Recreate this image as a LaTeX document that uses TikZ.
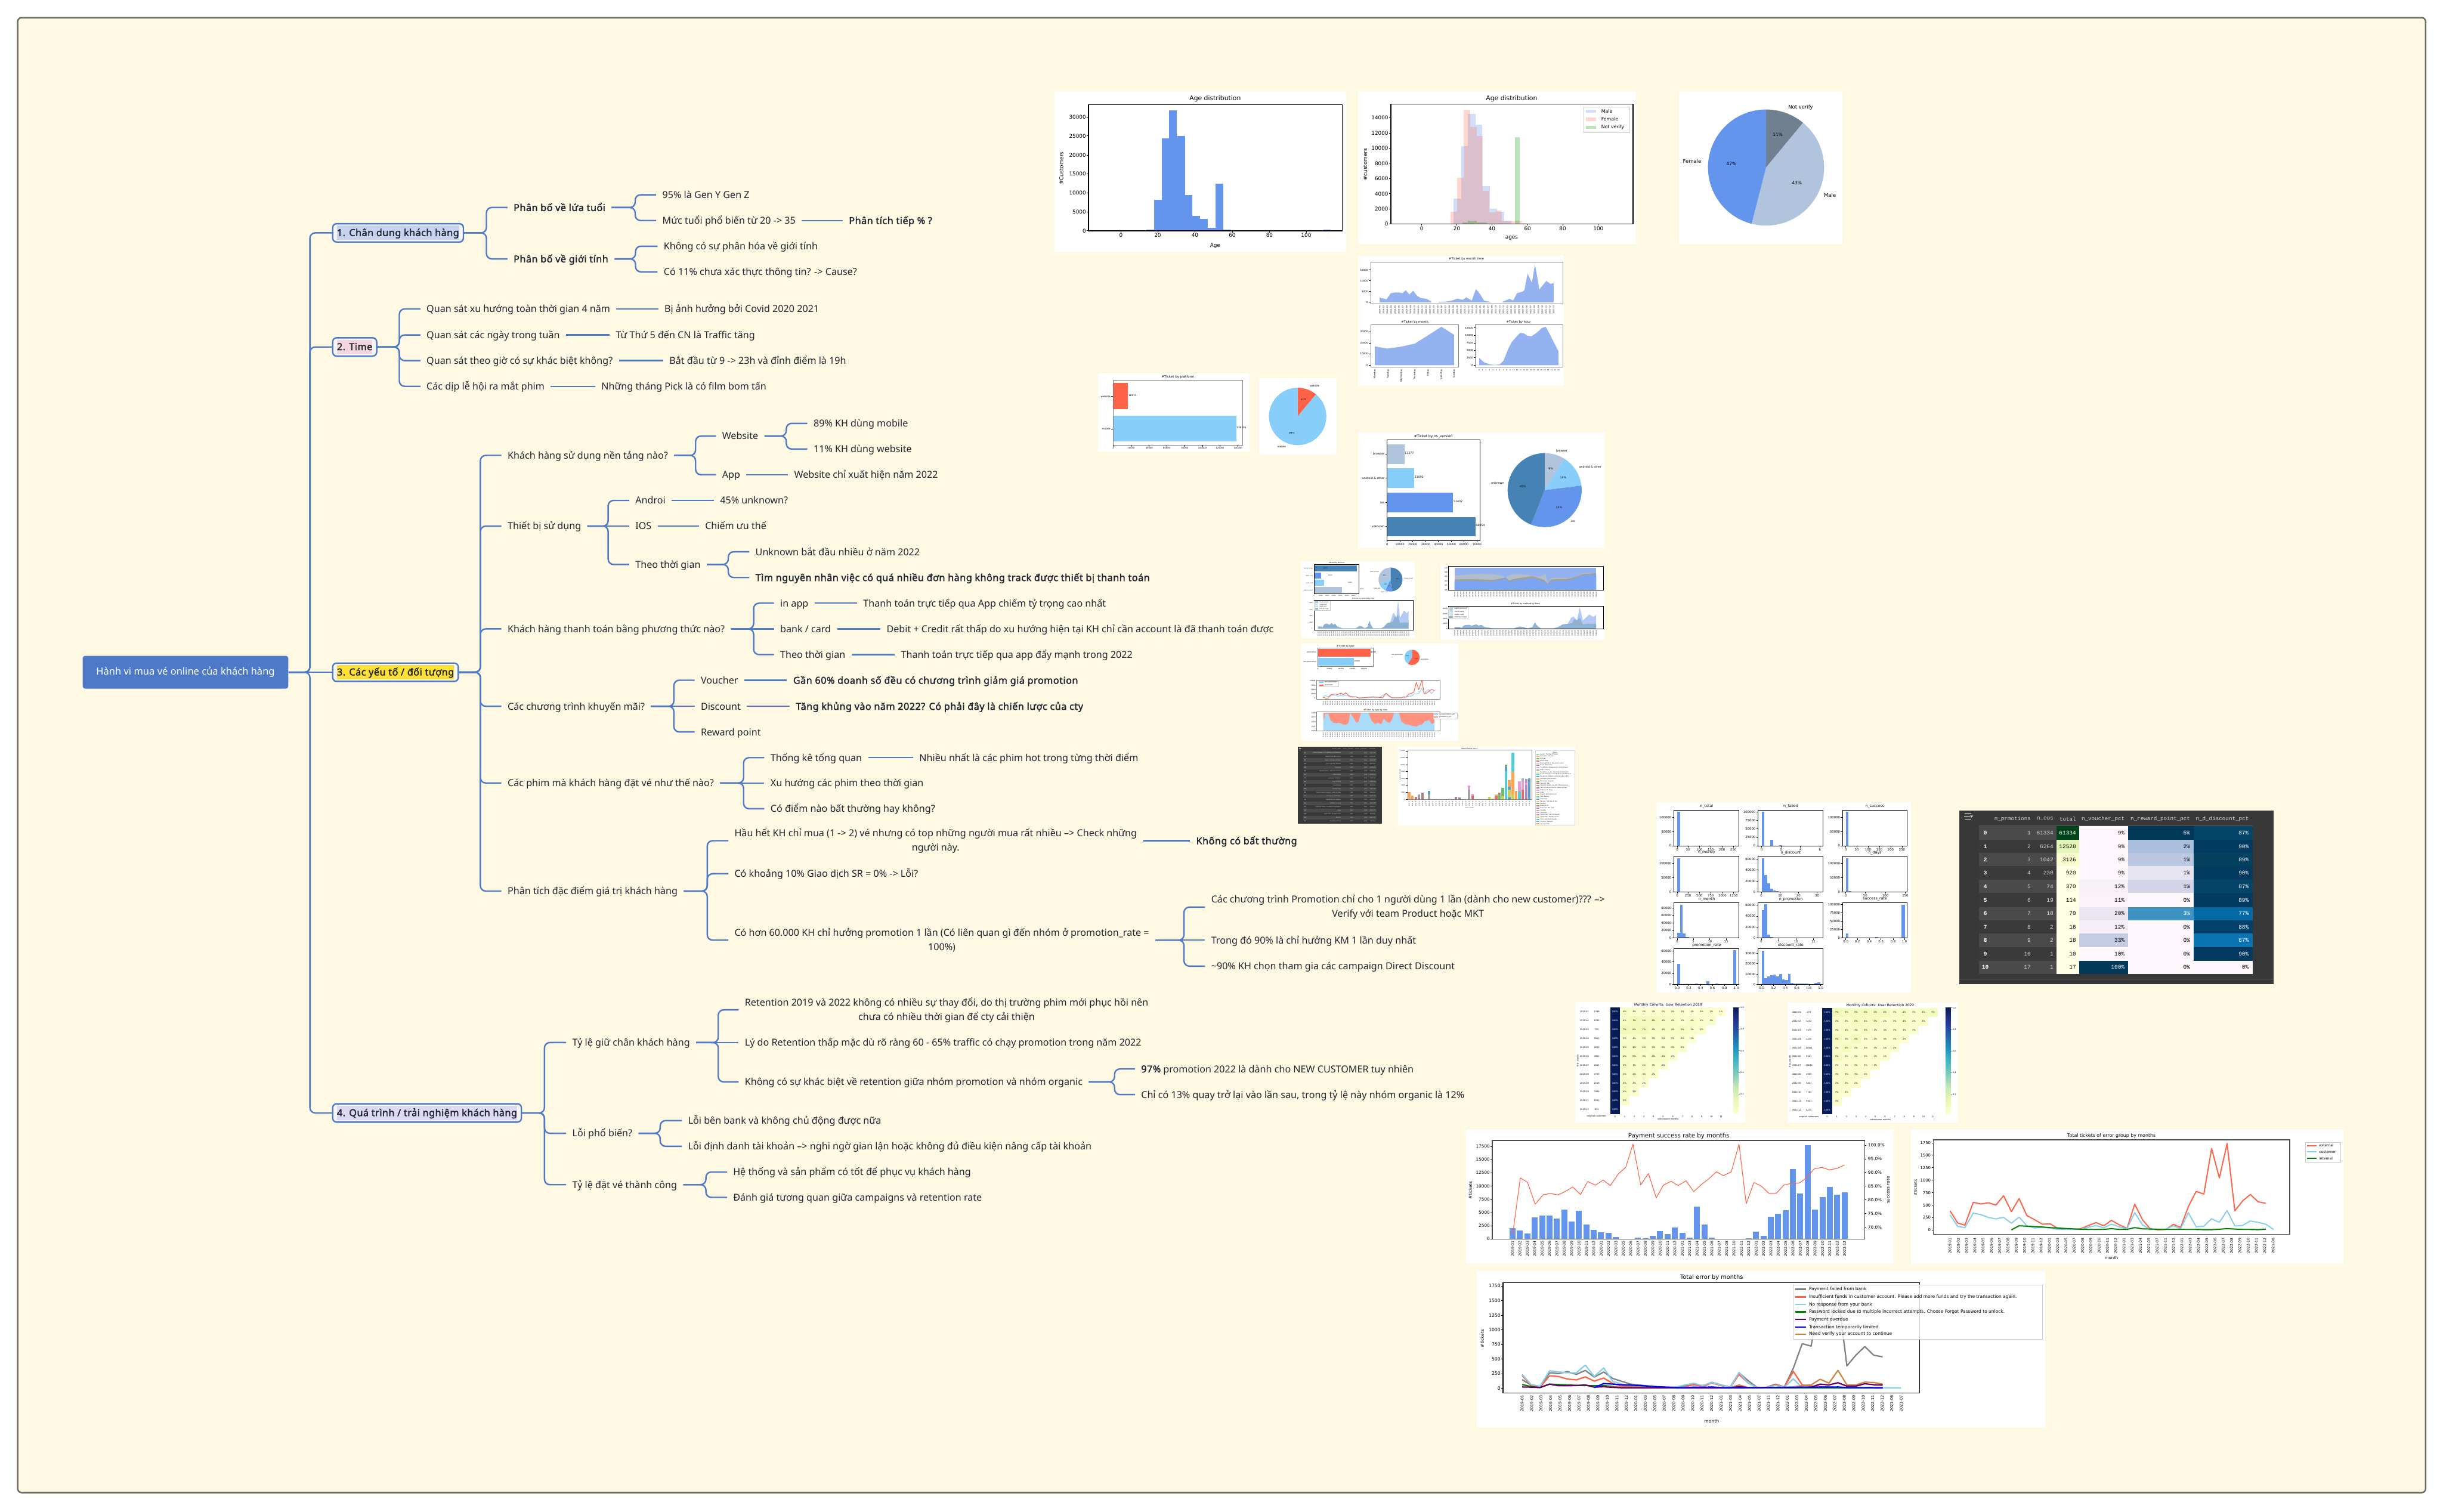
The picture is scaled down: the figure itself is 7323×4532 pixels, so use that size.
\documentclass[tikz,border=0pt]{standalone}
\usepackage{fontspec}
\setmainfont[AutoFakeBold=2]{Noto Sans}
\newfontfamily\nbold[FakeBold=2,LetterSpace=3.3]{Noto Sans}
\newcommand\bx[1]{{\nbold #1}}
\newfontfamily\dv{DejaVu Sans}
\newfontfamily\lib{Liberation Sans}
\newfontfamily\lmo{Liberation Mono}
\definecolor{bgc}{HTML}{FFF8E3}
\definecolor{frm}{HTML}{6E6B60}
\definecolor{blu}{HTML}{4E7AC7}
\definecolor{rootc}{HTML}{4E78C8}
\definecolor{ink}{HTML}{1F2430}
\definecolor{bgt1}{HTML}{C5D3EE}
\definecolor{bgt2}{HTML}{F2D7DC}
\definecolor{bgt3}{HTML}{FFE135}
\definecolor{bgt4}{HTML}{DDD9F3}
\definecolor{boxf}{HTML}{F5F5F5}
\definecolor{cornf}{HTML}{6495ED}
\definecolor{steel}{HTML}{B0C4DE}
\definecolor{slate}{HTML}{708090}
\definecolor{skyl}{HTML}{87CEFA}
\definecolor{skyb}{HTML}{87CEEB}
\definecolor{tomatoc}{HTML}{FF6347}
\definecolor{steeld}{HTML}{4682B4}
\definecolor{areab}{HTML}{94B2F0}
\definecolor{peruc}{HTML}{CD853F}
\definecolor{hmnavy}{HTML}{081D58}
\definecolor{yla}{HTML}{FFFFD9}
\definecolor{ylb}{HTML}{EDF8B1}
\definecolor{tabz}{HTML}{5C9DCC}
\definecolor{tabo}{HTML}{FFA551}
\definecolor{tabg}{HTML}{67BE67}
\definecolor{tabr}{HTML}{E56A6A}
\definecolor{tabp}{HTML}{AC8BCA}
\definecolor{tabb}{HTML}{AF8080}
\definecolor{tabk}{HTML}{EB9AD6}
\definecolor{tabs}{HTML}{A5A5A5}
\definecolor{tabl}{HTML}{CDCD55}
\definecolor{tabc}{HTML}{52CDDB}
\definecolor{darkt}{HTML}{383838}
\definecolor{stripea}{HTML}{4A4A4A}
\definecolor{stripeb}{HTML}{3A3A3A}
\definecolor{cellt}{HTML}{D8D8D8}
\newcounter{ctn}
\tikzset{
 mmn/.style={anchor=west,xshift=-0.18cm,inner xsep=0.18cm,inner ysep=0.1cm,text=ink,font=\fontsize{8.2}{12.2}\selectfont,text height=7.5pt,text depth=1.5pt},
 mmm/.style={anchor=west,xshift=-0.18cm,inner xsep=0.18cm,inner ysep=0.1cm,text=ink,font=\fontsize{8.2}{12.2}\selectfont,align=center},
 topicn/.style={anchor=west,draw=blu,line width=0.043cm,rounded corners=0.12cm,fill=boxf,inner xsep=0.13cm,inner ysep=0.06cm,text=ink,font=\fontsize{8.2}{12.2}\selectfont},
 conn/.style={draw=blu,line width=0.043cm,rounded corners=0.16cm},
 chtxt/.style={inner sep=0pt,text=black},
 tk/.style={line width=0.015cm,black},
 axl/.style={line width=0.025cm,black},
 lin/.style={line width=0.035cm,line join=round},
 z5/.style={shift={(3100,240)},x=0.015944cm,y=-0.007333cm},
 z6/.style={shift={(3800,1250)},x=0.007015cm,y=-0.007972cm},
 z7/.style={shift={(4900,2350)},x=0.012117cm,y=-0.006696cm},
 z8/.style={shift={(4300,3350)},x=0.017857cm,y=-0.006059cm},
 z9/.style={shift={(3880,2230)},x=0.00338cm,y=-0.003333cm},
}
\newcommand\ct[4][]{\stepcounter{ctn}\node[chtxt,font=\dv\fontsize{#3}{#3}\selectfont,#1] (c\arabic{ctn}) at (#2) {#4};}
\newcommand\yticks[3]{\foreach \lv/\ly in {#3}{\draw[tk] (#1,\ly) -- +(-0.05cm,0);\ct[anchor=east,xshift=-0.07cm]{#1,\ly}{#2}{\lv}}}
\newcommand\xticks[3]{\foreach \lv/\lx in {#3}{\draw[tk] (\lx,#1) -- +(0,-0.05cm);\ct[anchor=north,yshift=-0.07cm]{\lx,#1}{#2}{\lv}}}
\newcommand\dates[5]{\foreach \dd [count=\di from 0] in #5 {\pgfmathsetmacro\xx{#1+\di*#2}\ct[rotate=90,anchor=east]{\xx,#3}{#4}{\dd}}}
\newcommand\pie[3]{\def\cura{90}\pgfmathsetmacro\rr{#2*0.01}\foreach \f/\cc in {#3}{\pgfmathsetmacro\nexta{\cura-3.6*\f}\fill[\cc] (#1) -- +(\cura:\rr cm) arc[start angle=\cura,end angle=\nexta,radius=\rr cm] -- cycle;\xdef\cura{\nexta}}}
\newcommand\conn[3]{\coordinate (tmpx) at (#3,0);\draw[conn] (#1.east) -- (#1.east -| tmpx) -- (#2.west -| tmpx) -- (#2.west);}
\newcommand\hlb[2]{{\setlength\fboxsep{0pt}\colorbox{#1}{\rule[-3.4pt]{0pt}{12.2pt}\bx{#2}}}}
\def\mAll{2019-01,2019-02,2019-03,2019-04,2019-05,2019-06,2019-07,2019-08,2019-09,2019-10,2019-11,2019-12,2020-01,2020-02,2020-03,2020-04,2020-05,2020-06,2020-07,2020-08,2020-09,2020-10,2020-11,2020-12,2021-01,2021-02,2021-03,2021-04,2021-05,2021-06,2021-07,2021-08,2021-09,2021-10,2021-11,2021-12,2022-01,2022-02,2022-03,2022-04,2022-05,2022-06,2022-07,2022-08,2022-09,2022-10,2022-11,2022-12}
\def\mNf{2019-01,2019-02,2019-03,2019-04,2019-05,2019-06,2019-07,2019-08,2019-09,2019-10,2019-11,2019-12,2020-01,2020-02,2020-03,2020-05,2020-06,2020-07,2020-08,2020-09,2020-10,2020-11,2020-12,2021-01,2021-03,2021-04,2021-05,2021-06,2021-07,2021-08,2021-10,2021-11,2021-12,2022-01,2022-02,2022-03,2022-04,2022-05,2022-06,2022-07,2022-08,2022-09,2022-10,2022-11,2022-12,2022-12}
\def\mOf{2019-01,2019-02,2019-03,2019-04,2019-05,2019-06,2019-07,2019-08,2019-09,2019-10,2019-11,2019-12,2020-01,2020-03,2020-05,2020-07,2020-08,2020-09,2020-10,2020-11,2020-12,2021-01,2021-03,2021-04,2021-05,2021-07,2021-11,2021-12,2022-01,2022-03,2022-04,2022-05,2022-06,2022-07,2022-08,2022-09,2022-10,2022-11,2022-12,2021-06}
\def\mPf{2019-01,2019-02,2019-03,2019-04,2019-05,2019-06,2019-07,2019-08,2019-09,2019-10,2019-11,2019-12,2020-01,2020-03,2020-05,2020-07,2020-08,2020-09,2020-10,2020-11,2020-12,2021-01,2021-03,2021-04,2021-05,2021-07,2021-11,2021-12,2022-01,2022-03,2022-04,2022-05,2022-06,2022-07,2022-08,2022-09,2022-10,2022-11,2022-12,2021-06,2021-07}
\def\mLt{2019-04,2019-05,2019-06,2019-07,2019-08,2019-09,2019-10,2019-11,2020-02,2020-03,2020-05,2020-06,2020-07,2020-08,2020-10,2020-11,2020-12,2021-02,2021-03,2021-04,2021-05,2021-07,2021-10,2021-11,2021-12,2022-01,2022-02,2022-03,2022-04,2022-05,2022-06,2022-07,2022-08,2022-09,2022-10,2022-11,2022-12}
% method stack in local units
\newcommand\methodarea{%
 \fill[areab!70!white] (0,0) -- (0,-6) -- (20,-6) -- (30,-3) -- (40,-12) -- (52,-14) -- (62,-14) -- (72,-11) -- (82,-13) -- (92,-16) -- (102,-11) -- (114,-14) -- (127,-6) -- (142,-4) -- (162,-1) -- (212,-1) -- (252,-1) -- (262,-4) -- (277,-8) -- (292,-6) -- (312,-1) -- (332,-6) -- (342,-23) -- (352,-11) -- (367,-1) -- (422,-1) -- (442,-6) -- (462,-16) -- (482,-18) -- (497,-41) -- (507,-46) -- (522,-31) -- (534,-81) -- (547,-31) -- (574,-53) -- (592,-44) -- (604,-52) -- (604,0) -- cycle;
 \fill[steeld!62!white] (0,0) -- (0,-6) -- (20,-6) -- (30,-3) -- (40,-12) -- (52,-14) -- (62,-14) -- (72,-11) -- (82,-13) -- (92,-16) -- (102,-11) -- (114,-14) -- (127,-6) -- (142,-4) -- (162,-1) -- (212,-1) -- (252,-1) -- (262,-4) -- (277,-8) -- (292,-6) -- (312,-1) -- (332,-6) -- (342,-23) -- (352,-11) -- (367,-1) -- (422,-1) -- (442,-6) -- (462,-16) -- (482,-18) -- (502,-21) -- (512,-36) -- (522,-31) -- (534,-41) -- (547,-16) -- (567,-18) -- (604,-18) -- (604,0) -- cycle;}
% heat map
\newcommand\heat[2]{%
 \fill[white] (65,42) rectangle (1540,1125);
 \fill[hmnavy] (367,90) rectangle (451,1050);
 \ct{870,68}{3}{Monthly Cohorts: User Retention #1}
 \foreach \cnt/\vals [count=\rr from 0] in {#2}{%
  \pgfmathsetmacro\yc{130+\rr*80}\pgfmathsetmacro\ya{90+\rr*80}\pgfmathsetmacro\yb{170+\rr*80}\pgfmathtruncatemacro\mo{\rr+1}%
  \ct{143,\yc}{1.8}{#1-\ifnum\mo<10 0\fi\mo}
  \ct{250,\yc}{1.8}{\cnt}
  \ct[text=white]{409,\yc}{1.8}{100\%}
  \foreach \vv [count=\cc from 0] in \vals {%
   \if-\vv\else
   \pgfmathsetmacro\xa{451+\cc*83.7}\pgfmathsetmacro\xb{451+(\cc+1)*83.7}\pgfmathsetmacro\xc{492.8+\cc*83.7}\pgfmathtruncatemacro\mx{\vv*12}%
   \fill[ylb!\mx!yla] (\xa,\ya) rectangle (\xb,\yb);
   \ct{\xc,\yc}{1.8}{\vv\%}
   \fi}}
 \foreach \lb [count=\cc from 0] in {0,1,2,3,4,5,6,7,8,9,10,11}{\pgfmathsetmacro\xc{409+\cc*83.7}\ct{\xc,1072}{1.8}{\lb}}
 \ct{250,1072}{1.8}{original customers}
 \ct{870,1098}{1.8}{subsequent months}
 \ct[rotate=90]{87,570}{1.8}{first\_month}
 \foreach \ya/\yb/\ca/\cb in {1050/930/FFFFD9/EDF8B1,930/810/EDF8B1/C7E9B4,810/690/C7E9B4/7FCDBB,690/570/7FCDBB/41B6C4,570/450/41B6C4/1D91C0,450/330/1D91C0/225EA8,330/210/225EA8/253494,210/90/253494/081D58}{\definecolor{ca}{HTML}{\ca}\definecolor{cb}{HTML}{\cb}\shade[top color=cb,bottom color=ca] (1437,\yb) rectangle (1483,\ya);}
 \foreach \lb/\yy in {1.0/90,0.8/285,0.6/480,0.4/675,0.2/870}{\ct[anchor=west]{1497,\yy}{1.8}{\lb}\draw[tk,gray] (1483,\yy) -- (1492,\yy);}}
\begin{document}
\begin{tikzpicture}[x=0.01cm,y=-0.01cm]
\useasboundingbox (0,0) rectangle (7323,4532);
\draw[fill=bgc,draw=frm,line width=0.045cm,rounded corners=0.12cm] (53,53) rectangle (7271,4474);
% ===== mind map nodes
\node[fill=rootc,text=white,rounded corners=0.07cm,minimum width=6.16cm,minimum height=0.98cm,inner sep=0pt,font=\fontsize{8.4}{12.2}\selectfont] (root) at (556,2015) {Hành vi mua vé online của khách hàng};
\node[topicn] (t1) at (995,698) {\hlb{bgt1}{1. Chân dung khách hàng}};
\node[topicn] (t2) at (995,1040) {\hlb{bgt2}{2. Time}};
\node[topicn] (t3) at (995,2015) {\hlb{bgt3}{3. Các yếu tố / đối tượng}};
\node[topicn] (t4) at (995,3336) {\hlb{bgt4}{4. Quá trình / trải nghiệm khách hàng}};
% topic 1
\node[mmn] (a1) at (1539,622) {\bx{Phân bố về lứa tuổi}};
\node[mmn] (a2) at (1539,776) {\bx{Phân bố về giới tính}};
\node[mmn] (a11) at (1985,584) {95\% là Gen Y Gen Z};
\node[mmn] (a12) at (1985,661) {Mức tuổi phổ biến từ 20 -> 35};
\node[mmn] (a121) at (2544,661) {\bx{Phân tích tiếp \% ?}};
\node[mmn] (a21) at (1989,738) {Không có sự phân hóa về giới tính};
\node[mmn] (a22) at (1989,815) {Có 11\% chưa xác thực thông tin? -> Cause?};
% topic 2
\node[mmn] (b1) at (1278,926) {Quan sát xu hướng toàn thời gian 4 năm};
\node[mmn] (b11) at (1991,926) {Bị ảnh hưởng bởi Covid 2020 2021};
\node[mmn] (b2) at (1278,1004) {Quan sát các ngày trong tuần};
\node[mmn] (b21) at (1845,1004) {Từ Thứ 5 đến CN là Traffic tăng};
\node[mmn] (b3) at (1278,1081) {Quan sát theo giờ có sự khác biệt không?};
\node[mmn] (b31) at (2006,1081) {Bắt đầu từ 9 -> 23h và đỉnh điểm là 19h};
\node[mmn] (b4) at (1278,1158) {Các dịp lễ hội ra mắt phim};
\node[mmn] (b41) at (1802,1158) {Những tháng Pick là có film bom tấn};
% topic 3
\node[mmn] (c1) at (1521,1365) {Khách hàng sử dụng nền tảng nào?};
\node[mmn] (c11) at (2164,1307) {Website};
\node[mmn] (c111) at (2438,1269) {89\% KH dùng mobile};
\node[mmn] (c112) at (2438,1346) {11\% KH dùng website};
\node[mmn] (c12) at (2164,1423) {App};
\node[mmn] (c121) at (2380,1423) {Website chỉ xuất hiện năm 2022};
\node[mmn] (c2) at (1521,1577) {Thiết bị sử dụng};
\node[mmn] (c21) at (1904,1500) {Androi};
\node[mmn] (c211) at (2158,1500) {45\% unknown?};
\node[mmn] (c22) at (1904,1577) {IOS};
\node[mmn] (c221) at (2113,1577) {Chiếm ưu thế};
\node[mmn] (c23) at (1904,1692) {Theo thời gian};
\node[mmn] (c231) at (2264,1654) {Unknown bắt đầu nhiều ở năm 2022};
\node[mmn] (c232) at (2264,1731) {\bx{Tìm nguyên nhân việc có quá nhiều đơn hàng không track được thiết bị thanh toán}};
\node[mmn] (c3) at (1521,1885) {Khách hàng thanh toán bằng phương thức nào?};
\node[mmn] (c31) at (2338,1808) {in app};
\node[mmn] (c311) at (2587,1808) {Thanh toán trực tiếp qua App chiếm tỷ trọng cao nhất};
\node[mmn] (c32) at (2338,1885) {bank / card};
\node[mmn] (c321) at (2657,1885) {Debit + Credit rất thấp do xu hướng hiện tại KH chỉ cần account là đã thanh toán được};
\node[mmn] (c33) at (2338,1962) {Theo thời gian};
\node[mmn] (c331) at (2700,1962) {Thanh toán trực tiếp qua app đẩy mạnh trong 2022};
\node[mmn] (c4) at (1521,2117) {Các chương trình khuyến mãi?};
\node[mmn] (c41) at (2100,2039) {Voucher};
\node[mmn] (c411) at (2377,2039) {\bx{Gần 60\% doanh số đều có chương trình giảm giá promotion}};
\node[mmn] (c42) at (2100,2117) {Discount};
\node[mmn] (c421) at (2385,2117) {\bx{Tăng khủng vào năm 2022? Có phải đây là chiến lược của cty}};
\node[mmn] (c43) at (2100,2194) {Reward point};
\node[mmn] (c5) at (1521,2347) {Các phim mà khách hàng đặt vé như thế nào?};
\node[mmn] (c51) at (2309,2271) {Thống kê tổng quan};
\node[mmn] (c511) at (2755,2271) {Nhiều nhất là các phim hot trong từng thời điểm};
\node[mmn] (c52) at (2309,2347) {Xu hướng các phim theo thời gian};
\node[mmn] (c53) at (2309,2424) {Có điểm nào bất thường hay không?};
\node[mmn] (c6) at (1521,2671) {Phân tích đặc điểm giá trị khách hàng};
\node[mmm] (c61) at (2201,2520) {Hầu hết KH chỉ mua (1 -> 2) vé nhưng có top những người mua rất nhiều --> Check những\\người này.};
\node[mmn] (c611) at (3585,2520) {\bx{Không có bất thường}};
\node[mmn] (c62) at (2201,2619) {Có khoảng 10\% Giao dịch SR = 0\% -> Lỗi?};
\node[mmm] (c63) at (2201,2818) {Có hơn 60.000 KH chỉ hưởng promotion 1 lần (Có liên quan gì đến nhóm ở promotion\_rate =\\100\%)};
\node[mmm] (c631) at (3630,2719) {Các chương trình Promotion chỉ cho 1 người dùng 1 lần (dành cho new customer)??? -->\\Verify với team Product hoặc MKT};
\node[mmn] (c632) at (3630,2818) {Trong đó 90\% là chỉ hưởng KM 1 lần duy nhất};
\node[mmn] (c633) at (3630,2896) {\textasciitilde 90\% KH chọn tham gia các campaign Direct Discount};
% topic 4
\node[mmn] (d1) at (1715,3125) {Tỷ lệ giữ chân khách hàng};
\node[mmm] (d11) at (2232,3027) {Retention 2019 và 2022 không có nhiều sự thay đổi, do thị trường phim mới phục hồi nên\\chưa có nhiều thời gian để cty cải thiện};
\node[mmn] (d12) at (2232,3125) {Lý do Retention thấp mặc dù rõ ràng 60 - 65\% traffic có chạy promotion trong năm 2022};
\node[mmn] (d13) at (2232,3243) {Không có sự khác biệt về retention giữa nhóm promotion và nhóm organic};
\node[mmn] (d131) at (3420,3204) {\bx{97\%} promotion 2022 là dành cho NEW CUSTOMER tuy nhiên};
\node[mmn] (d132) at (3420,3281) {Chỉ có 13\% quay trở lại vào lần sau, trong tỷ lệ này nhóm organic là 12\%};
\node[mmn] (d2) at (1715,3397) {Lỗi phổ biến?};
\node[mmn] (d21) at (2062,3359) {Lỗi bên bank và không chủ động được nữa};
\node[mmn] (d22) at (2062,3436) {Lỗi định danh tài khoản --> nghi ngờ gian lận hoặc không đủ điều kiện nâng cấp tài khoản};
\node[mmn] (d3) at (1715,3551) {Tỷ lệ đặt vé thành công};
\node[mmn] (d31) at (2197,3513) {Hệ thống và sản phẩm có tốt để phục vụ khách hàng};
\node[mmn] (d32) at (2197,3589) {Đánh giá tương quan giữa campaigns và retention rate};
% ===== connectors
\conn{root}{t1}{929}\conn{root}{t2}{929}\conn{root}{t4}{929}
\draw[conn] (root.east) -- (t3.west);
\conn{t1}{a1}{1458}\conn{t1}{a2}{1458}
\conn{a1}{a11}{1904}\conn{a1}{a12}{1904}\conn{a2}{a21}{1905}\conn{a2}{a22}{1905}
\draw[conn] (a12) -- (a121);
\conn{t2}{b1}{1197}\conn{t2}{b2}{1197}\conn{t2}{b3}{1197}\conn{t2}{b4}{1197}
\draw[conn] (b1) -- (b11);\draw[conn] (b2) -- (b21);\draw[conn] (b3) -- (b31);\draw[conn] (b4) -- (b41);
\conn{t3}{c1}{1440}\conn{t3}{c2}{1440}\conn{t3}{c3}{1440}\conn{t3}{c4}{1440}\conn{t3}{c5}{1440}\conn{t3}{c6}{1440}
\conn{c1}{c11}{2085}\conn{c1}{c12}{2085}\conn{c11}{c111}{2357}\conn{c11}{c112}{2357}\draw[conn] (c12) -- (c121);
\conn{c2}{c21}{1823}\draw[conn] (c2) -- (c22);\conn{c2}{c23}{1823}
\draw[conn] (c21) -- (c211);\draw[conn] (c22) -- (c221);\conn{c23}{c231}{2183}\conn{c23}{c232}{2183}
\conn{c3}{c31}{2259}\draw[conn] (c3) -- (c32);\conn{c3}{c33}{2259}
\draw[conn] (c31) -- (c311);\draw[conn] (c32) -- (c321);\draw[conn] (c33) -- (c331);
\conn{c4}{c41}{2020}\draw[conn] (c4) -- (c42);\conn{c4}{c43}{2020}
\draw[conn] (c41) -- (c411);\draw[conn] (c42) -- (c421);
\conn{c5}{c51}{2229}\draw[conn] (c5) -- (c52);\conn{c5}{c53}{2229}\draw[conn] (c51) -- (c511);
\conn{c6}{c61}{2120}\conn{c6}{c62}{2120}\conn{c6}{c63}{2120}\draw[conn] (c61) -- (c611);
\conn{c63}{c631}{3549}\draw[conn] (c63) -- (c632);\conn{c63}{c633}{3549}
\conn{t4}{d1}{1632}\conn{t4}{d2}{1632}\conn{t4}{d3}{1632}
\conn{d1}{d11}{2153}\draw[conn] (d1) -- (d12);\conn{d1}{d13}{2153}
\conn{d13}{d131}{3341}\conn{d13}{d132}{3341}
\conn{d2}{d21}{1979}\conn{d2}{d22}{1979}\conn{d3}{d31}{2116}\conn{d3}{d32}{2116}
% ===== charts: zoom 5 coordinates
\begin{scope}[z5]
 % A
 \fill[white] (38,46) rectangle (586,703);
 \foreach \a/\b/\t in {196/211/612,211/225/611,225/240/488,240/253/239,253/268/124,268/283/229,283/297/469,297/312/555,312/326/566,326/341/603,341/355/424,355/370/611,370/442/612,455/485/612,543/557/610}{\fill[cornf] (\a,\t) rectangle (\b,615);}
 \draw[axl] (102,101) rectangle (579,615);
 \ct{340,76}{5.5}{Age distribution}
 \yticks{102}{4.5}{30000/151,25000/228,20000/306,15000/383,10000/460,5000/539,0/615}
 \xticks{615}{4.5}{0/163,20/232,40/302,60/372,80/442,100/511}
 \ct[rotate=90]{51,360}{4.5}{\#Customers}
 \ct{340,676}{4.5}{Age}
 % B
 \fill[white] (610,46) rectangle (1131,670);
 \foreach \a/\b/\t in {760/788/585,788/802/484,802/815/269,815/829/138,829/842/183,842/856/432,856/870/526,870/883/537,883/896/575}{\fill[cornf,fill opacity=0.3] (\a,\t) rectangle (\b,587);}
 \foreach \a/\b/\t in {782/795/537,795/807/399,807/819/120,819/831/192,831/843/229,843/855/453,855/867/540,867/879/533,879/903/576,903/915/574,915/925/584}{\fill[tomatoc,fill opacity=0.25] (\a,\t) rectangle (\b,587);}
 \foreach \a/\b/\t in {903/912/232,805/815/582,815/832/575,832/850/581}{\fill[green!60!black,fill opacity=0.27] (\a,\t) rectangle (\b,587);}
 \draw[axl] (670,98) rectangle (1125,587);
 \ct{897,75}{5.5}{Age distribution}
 \yticks{670}{4.5}{14000/154,12000/216,10000/278,8000/340,6000/402,4000/464,2000/526,0/587}
 \xticks{587}{4.5}{0/728,20/794,40/860,60/927,80/993,100/1060}
 \ct[rotate=90]{622,345}{4.5}{\#customers}
 \ct{897,645}{4.5}{ages}
 \draw[gray!40,fill=white,line width=0.012cm] (1033,109) rectangle (1119,215);
 \fill[cornf,fill opacity=0.3] (1037,120) rectangle (1056,134);
 \fill[tomatoc,fill opacity=0.25] (1037,153) rectangle (1056,167);
 \fill[green!60!black,fill opacity=0.27] (1037,186) rectangle (1056,200);
 \ct[anchor=west]{1065,127}{4}{Male}\ct[anchor=west]{1065,160}{4}{Female}\ct[anchor=west]{1065,193}{4}{Not verify}
 % C
 \fill[white] (1211,46) rectangle (1518,670);
 \pie{1375,357}{174}{11/slate,43/steel,46/cornf}
 \ct{1440,111}{4.3}{Not verify}\ct{1397,224}{3.8}{11\%}\ct{1236,331}{4.3}{Female}\ct{1310,342}{3.8}{47\%}\ct{1433,419}{3.8}{43\%}\ct{1495,471}{4.3}{Male}
 % D
 \fill[white] (610,718) rectangle (995,1248);
 \fill[areab] (649,907) -- (649,888) -- (662,895) -- (670,870) -- (678,867) -- (686,867) -- (692,870) -- (698,858) -- (705,875) -- (712,860) -- (720,882) -- (727,890) -- (737,893) -- (746,903) -- (746,907) -- cycle;
 \fill[areab] (760,907) -- (760,905) -- (775,904) -- (785,900) -- (795,892) -- (805,897) -- (812,887) -- (822,900) -- (830,853) -- (838,875) -- (845,900) -- (858,906) -- (858,907) -- cycle;
 \fill[areab] (880,907) -- (880,905) -- (893,893) -- (900,900) -- (907,870) -- (918,863) -- (921,858) -- (927,790) -- (935,827) -- (941,752) -- (949,855) -- (962,820) -- (970,832) -- (976,829) -- (976,907) -- cycle;
 \draw[axl,gray,line width=0.012cm] (632,743) rectangle (993,914);
 \ct{812,731}{2.6}{\#Ticket by month time}
 \yticks{632}{2.1}{15000/775,10000/819,5000/863,0/907}
 \dates{649}{7.27}{921}{1.6}{\mNf}
 \fill[areab] (640,1164) -- (640,1087) -- (663,1096) -- (690,1088) -- (715,1076) -- (740,1042) -- (765,1007) -- (789,1040) -- (789,1164) -- cycle;
 \draw[axl,gray,line width=0.012cm] (632,999) rectangle (797,1172);
 \ct{715,988}{2.6}{\#Ticket by month}
 \yticks{632}{2.1}{30000/1028,20000/1073,10000/1118,0/1164}
 \foreach \dn/\dx in {Monday/640,Tuesday/665,Wednesday/690,Thursday/715,Friday/740,Saturday/765,Sunday/789}{\ct[rotate=90,anchor=east]{\dx,1180}{1.9}{\dn}}
 \fill[areab] (836,1164) -- (836,1134) -- (845,1152) -- (855,1160) -- (865,1163) -- (875,1160) -- (882,1145) -- (890,1100) -- (897,1070) -- (905,1050) -- (913,1032) -- (920,1034) -- (926,1043) -- (934,1046) -- (945,1030) -- (954,1012) -- (961,1007) -- (967,1030) -- (975,1065) -- (985,1107) -- (985,1164) -- cycle;
 \draw[axl,gray,line width=0.012cm] (829,999) rectangle (993,1172);
 \ct{910,988}{2.6}{\#Ticket by hour}
 \yticks{829}{2.1}{12500/1012,10000/1042,7500/1073,5000/1103,2500/1133,0/1164}
 \foreach \hh in {0,...,23}{\pgfmathsetmacro\hx{836+\hh*6.48}\ct{\hx,1183}{1.4}{\hh}}
 % E
 \fill[white] (120,1197) rectangle (405,1516);
 \fill[tomatoc] (149,1237) rectangle (176,1343);
 \fill[skyl] (149,1370) rectangle (380,1475);
 \draw[axl,gray,line width=0.012cm] (148,1224) rectangle (391,1489);
 \ct{270,1213}{2.8}{\#Ticket by platform}
 \ct[anchor=west]{177,1287}{2.1}{16511}\ct[anchor=west]{380,1418}{2.1}{138136}
 \yticks{148}{2.1}{website/1291,mobile/1424}
 \xticks{1489}{1.9}{0/149,20000/182,40000/216,60000/249,80000/283,100000/316,120000/349,140000/383}
 % F
 \fill[white] (423,1216) rectangle (568,1531);
 \pie{495,1373}{86}{11/tomatoc,89/skyl}
 \ct{527,1249}{2.1}{website}\ct{506,1305}{2.1}{11\%}\ct{484,1440}{2.1}{89\%}\ct{465,1496}{2.1}{mobile}
\end{scope}
% ===== zoom 6 coordinates
\begin{scope}[z6]
 % G
 \fill[white] (389,59) rectangle (1437,493);
 \fill[steel] (510,103) rectangle (583,176);\fill[skyl] (510,193) rectangle (626,266);\fill[cornf] (510,284) rectangle (791,358);\fill[steeld] (510,376) rectangle (887,448);
 \draw[axl,line width=0.015cm] (509,86) rectangle (906,465);
 \ct{707,73}{3}{\#Ticket by os\_version}
 \ct[anchor=west]{584,135}{2.4}{13377}\ct[anchor=west]{626,226}{2.4}{21092}\ct[anchor=west]{792,317}{2.4}{51402}\ct[anchor=west]{887,408}{2.4}{68854}
 \yticks{509}{2.4}{browser/139,android \& other/230,ios/321,unknown/412}
 \xticks{465}{2.4}{0/510,10000/564,20000/619,30000/674,40000/729,50000/784,60000/838,70000/893}
 \pie{1182,275}{111}{9/steel,14/skyl,33/cornf,44/steeld}
 \ct{1255,127}{2.4}{browser}\ct{1208,195}{2.4}{9\%}\ct{1377,188}{2.4}{android \& other}\ct{1261,228}{2.4}{14\%}\ct{1243,339}{2.4}{33\%}\ct{1303,392}{2.4}{ios}\ct{1089,261}{2.4}{45\%}\ct{981,248}{2.4}{unknown}
 % H
 \fill[white] (145,542) rectangle (627,832);
 \fill[steeld] (198,559) rectangle (381,581);\fill[cornf] (198,586) rectangle (229,608);\fill[skyl] (198,613) rectangle (241,635);\fill[steel] (198,640) rectangle (316,662);
 \draw[axl,line width=0.01cm] (197,554) rectangle (390,665);
 \ct{293,549}{1.4}{\#Ticket by Method}
 \ct{245,569}{1.1}{44877}\ct{267,595}{1.1}{21093}\ct{351,622}{1.1}{52492}\ct{402,648}{1.1}{68854}
 \foreach \lb/\yy in {money in app/570,debit card/597,credit card/624,bank account/651}{\ct[anchor=east]{193,\yy}{1.1}{\lb}}
 \foreach \lb/\xx in {0/198,10000/226,20000/254,30000/282,40000/310,50000/338,60000/366}{\ct{\xx,673}{1.1}{\lb}}
 \pie{524,611}{36}{48/steeld,9/cornf,12/skyl,31/steel}
 \ct{456,583}{1.1}{bank account}\ct{498,595}{1.1}{31\%}\ct{601,608}{1.1}{money in app}\ct{554,609}{1.1}{48\%}\ct{519,637}{1.1}{9\%}\ct{502,629}{1.1}{13\%}\ct{466,645}{1.1}{credit card}\ct{498,658}{1.1}{debit card}
 \begin{scope}[shift={(215,796)},x=0.00449cm,y=-0.01036cm]\methodarea\end{scope}
 \draw[axl,line width=0.01cm] (197,689) rectangle (620,800);
 \ct{408,683}{1.4}{\#Ticket by method by time}
 \foreach \lb/\yy in {8000/698,6000/725,4000/749,2000/772,0/796}{\ct[anchor=east]{193,\yy}{1.1}{\lb}}
 \draw[gray!40,fill=white,line width=0.008cm] (199,692) rectangle (267,727);
 \foreach \lb/\yy/\cc in {bank account/696/steel,credit card/705/skyl!60!white,debit card/713/gray!30,money in app/721/steeld!60!white}{\fill[\cc] (202,\yy-3) rectangle (216,\yy+3);\ct[anchor=west]{221,\yy}{1.1}{\lb}}
 \dates{215}{8.23}{806}{0.9}{\mAll}
 % I
 \fill[white] (737,558) rectangle (1437,838);
 \fill[areab] (798,567) rectangle (1402,650);
 \fill[gray!35!steel!80!white] (798,650) -- (798,597) -- (830,595) -- (870,591) -- (920,590) -- (960,591) -- (1000,597) -- (1015,606) -- (1030,595) -- (1060,590) -- (1100,592) -- (1130,596) -- (1160,600) -- (1185,590) -- (1195,628) -- (1210,606) -- (1240,604) -- (1280,606) -- (1320,600) -- (1345,588) -- (1402,586) -- (1402,650) -- cycle;
 \fill[gray!75] (798,650) -- (798,611) -- (830,610) -- (870,610) -- (920,611) -- (960,613) -- (1015,604) -- (1030,615) -- (1050,609) -- (1080,605) -- (1100,603) -- (1130,598) -- (1160,607) -- (1180,613) -- (1195,628) -- (1210,611) -- (1240,609) -- (1280,609) -- (1320,600) -- (1345,591) -- (1402,587) -- (1402,650) -- cycle;
 \fill[cornf!85!white] (798,650) -- (798,618) -- (830,617) -- (870,617) -- (920,618) -- (960,620) -- (1015,608) -- (1030,622) -- (1050,616) -- (1080,612) -- (1100,610) -- (1130,605) -- (1160,614) -- (1180,620) -- (1195,630) -- (1210,618) -- (1240,616) -- (1280,616) -- (1320,605) -- (1345,597) -- (1402,592) -- (1402,650) -- cycle;
 \draw[axl,line width=0.01cm] (772,562) rectangle (1432,650);
 \foreach \lb/\yy in {1.0/567,0.8/583,0.6/600,0.4/617,0.2/633,0.0/650}{\ct[anchor=east]{768,\yy}{1.5}{\lb}}
 \dates{798}{12.85}{655}{1.2}{\mAll}
 \begin{scope}[shift={(798,796)}]\methodarea\end{scope}
 \draw[axl,line width=0.01cm] (772,711) rectangle (1432,796);
 \ct{1100,704}{1.8}{\#Ticket by method by time}
 \foreach \lb/\yy in {8000/720,6000/740,4000/758,2000/776,0/796}{\ct[anchor=east]{768,\yy}{1.5}{\lb}}
 \draw[gray!40,fill=white,line width=0.008cm] (770,715) rectangle (855,758);
 \foreach \lb/\yy/\cc in {bank account/721/steel,credit card/731/skyl!60!white,debit card/742/gray!30,money in app/752/steeld!60!white}{\fill[\cc] (774,\yy-3.5) rectangle (791,\yy+3.5);\ct[anchor=west]{797,\yy}{1.5}{\lb}}
 \dates{798}{12.85}{801}{1.2}{\mAll}
 % J
 \fill[white] (145,853) rectangle (814,1218);
 \fill[tomatoc] (214,872) rectangle (439,901);\fill[skyl] (214,907) rectangle (368,936);
 \draw[axl,gray,line width=0.012cm] (213,868) rectangle (450,938);
 \ct{332,861}{1.9}{\#Ticket by type}
 \ct[anchor=west]{440,884}{1.4}{91827}\ct[anchor=west]{369,919}{1.4}{63098}
 \ct[anchor=east]{208,886}{1.5}{promotion}\ct[anchor=east]{208,922}{1.5}{non-promotion}
 \foreach \lb/\xx in {0/214,20000/263,40000/313,60000/362,80000/411}{\ct{\xx,947}{1.5}{\lb}}
 \pie{616,904}{23}{59/tomatoc,41/skyl}
 \ct{553,895}{1.3}{non-promotion}\ct{597,899}{1.1}{41\%}\ct{634,909}{1.1}{59\%}\ct{670,913}{1.3}{promotion}
 \draw[axl,line width=0.01cm,gray] (209,989) rectangle (735,1062);
 \draw[skyl,line width=0.018cm,line join=round] (237,1051) -- (247,1048) -- (258,1052) -- (268,1048) -- (278,1047) -- (288,1047) -- (298,1050) -- (313,1048) -- (323,1050) -- (333,1046) -- (345,1050) -- (358,1050) -- (375,1053) -- (390,1056) -- (450,1055) -- (480,1053) -- (505,1040) -- (520,1052) -- (530,1056) -- (580,1056) -- (602,1050) -- (612,1050) -- (624,1042) -- (645,1040) -- (658,1021) -- (668,1040) -- (678,1030) -- (688,1025) -- (698,1040) -- (708,1032);
 \draw[tomatoc,line width=0.018cm,line join=round] (237,1054) -- (247,1057) -- (258,1057) -- (268,1045) -- (278,1043) -- (288,1042) -- (298,1044) -- (313,1038) -- (323,1044) -- (333,1037) -- (345,1047) -- (358,1054) -- (375,1052) -- (390,1057) -- (450,1052) -- (470,1054) -- (490,1056) -- (505,1039) -- (520,1050) -- (530,1056) -- (570,1056) -- (580,1052) -- (590,1054) -- (602,1042) -- (612,1040) -- (624,1034) -- (634,998) -- (645,1025) -- (658,990) -- (668,1041) -- (678,1038) -- (688,1032) -- (698,1025) -- (708,1027) -- (712,1029);
 \foreach \lb/\yy in {10000/993,7500/1009,5000/1025,2500/1041,0/1057}{\ct[anchor=east]{205,\yy}{1.5}{\lb}}
 \draw[gray!40,fill=white,line width=0.008cm] (217,993) rectangle (301,1015);
 \draw[skyl,line width=0.02cm] (220,998) -- (238,998);\draw[tomatoc,line width=0.02cm] (220,1009) -- (238,1009);
 \ct[anchor=west]{242,998}{1.4}{non-promotion}\ct[anchor=west]{242,1009}{1.4}{promotion}
 \dates{237}{10.1}{1066}{1}{\mAll}
 \fill[tomatoc!70!white] (237,1113) rectangle (712,1181);
 \fill[skyl!72!white] (237,1181) -- (237,1150) -- (247,1116) -- (258,1115) -- (268,1140) -- (280,1150) -- (295,1152) -- (305,1150) -- (318,1156) -- (335,1158) -- (345,1150) -- (352,1113) -- (368,1135) -- (378,1150) -- (388,1146) -- (398,1113) -- (430,1113) -- (445,1145) -- (460,1155) -- (470,1150) -- (485,1156) -- (495,1135) -- (510,1148) -- (520,1150) -- (530,1140) -- (540,1113) -- (560,1113) -- (570,1145) -- (585,1155) -- (610,1160) -- (635,1165) -- (645,1158) -- (658,1157) -- (670,1145) -- (690,1140) -- (700,1155) -- (712,1150) -- (712,1181) -- cycle;
 \draw[axl,line width=0.01cm,gray] (209,1108) rectangle (735,1181);
 \ct{460,1102}{1.7}{\#Ticket by type by time}
 \foreach \lb/\yy in {1.00/1113,0.75/1130,0.50/1147,0.25/1164,0.00/1181}{\ct[anchor=east]{205,\yy}{1.5}{\lb}}
 \draw[gray!40,fill=white,line width=0.008cm] (708,1113) rectangle (808,1135);
 \fill[skyl!72!white] (710,1115) rectangle (727,1121);\fill[tomatoc!70!white] (710,1125) rectangle (727,1131);
 \ct[anchor=west]{732,1118}{1.4}{non-promotion\_pct}\ct[anchor=west]{732,1128}{1.4}{promotion\_pct}
 \dates{237}{10.1}{1186}{1}{\mAll}
 % L
 \fill[white] (557,1240) rectangle (1313,1537);
 \foreach \xc/\ya/\yb/\cc in {604/1439/1411/tabo,618/1439/1424/tabo,632/1439/1428/tabb,646/1439/1433/tabb,646/1433/1419/tabs,661/1439/1413/tabb,675/1439/1437/tabb,689/1439/1420/tabs,689/1420/1407/tabz,703/1439/1437/tabz,775/1439/1435/tabk,804/1439/1428/tabb,818/1439/1431/tabb,860/1439/1401/tabs,860/1401/1385/tabk,875/1439/1424/tabr,875/1424/1417/tabk,946/1439/1429/tabl,960/1439/1436/tabl,975/1439/1425/tabr,975/1425/1420/tabl,989/1439/1420/tabg,989/1420/1414/tabr,1003/1439/1427/tabl,1003/1427/1396/tabg,1017/1439/1333/tabc,1017/1333/1317/tabz,1017/1317/1308/tabg,1031/1439/1430/tabz,1031/1430/1402/tabl,1031/1402/1390/tabz,1031/1390/1365/tabo,1046/1439/1420/tabl,1046/1420/1335/tabo,1046/1335/1262/tabc,1060/1439/1409/tabo,1060/1409/1407/tabc,1074/1439/1408/tabc,1074/1408/1371/tabk,1089/1439/1402/tabr,1089/1402/1365/tabk,1089/1365/1361/tabc,1089/1361/1359/tabk,1103/1439/1433/tabr,1103/1433/1384/tabp,1103/1384/1374/tabk,1103/1374/1361/tabp,1117/1439/1360/tabz}{\fill[\cc] (\xc-5.5,\ya) rectangle (\xc+5.5,\yb);}
 \draw[axl,gray,line width=0.01cm] (597,1252) rectangle (1128,1439);
 \ct{861,1247}{1.5}{Movie name trend}
 \yticks{597}{1.2}{14000/1256,12000/1282,10000/1308,8000/1334,6000/1360,4000/1386,2000/1412,0/1439}
 \ct[rotate=90]{565,1345}{1.1}{Number of tickets}
 \ct{861,1471}{1.2}{post\_month}
 \dates{604}{14.25}{1443}{1}{\mLt}
 \draw[gray!30,fill=white,line width=0.008cm] (1143,1255) rectangle (1310,1535);
 \ct{1226,1261}{1.15}{Movie}
 \foreach \mv/\cc [count=\i from 0] in {Avatar: The Way Of Water/tabz,Avengers: Endgame/tabo,Batman/tabg,Black Adam/tabr,Black Panther 2: Wakanda Forever/tabp,Blood Moon Party/tabb,Confidential Assignment 2: International/tabk,Dad I'm Sorry/tabs,Detective Conan: The Bride Of Halloween/tabl,Doctor Strange In The Multiverse Of Madness/tabc,Doraemon: Nobita's Little Star Wars 2021/tabz,Emergency Declaration/tabo,Extremely Easy Job/tabg,Face Off: 48h/tabr,Fantastic Beasts: Secrets Of Dumbledore/tabp,Fast \& Furious Presents: Hobbs \& Shaw/tabb,Godzilla Vs. Kong/tabk,Joker/tabs,Jurassic World Dominion/tabl,Love Destiny/tabc,Maleficent/tabz,Minions: The Rise Of Gru/tabo,Morbius/tabg,Naked Truth/tabr,One Piece Film: Red/tabp,Parasite/tabb,Peninsula/tabk,Spider-Man: Far From Home/tabs,Spider-Man: No Way Home/tabl,Thor: Love And Thunder/tabc,Top Gun: Maverick/tabz,You And Trinh/tabo}{\pgfmathsetmacro\yy{1268+\i*8.45}\fill[\cc] (1146,\yy-2) rectangle (1160,\yy+2);\ct[anchor=west]{1163,\yy}{1.15}{\mv}}
\end{scope}
% ===== K table, zoom 9 coordinates
\begin{scope}[z9]
 \fill[darkt] (31,25) rectangle (774,718);
 \draw[gray!70,line width=0.008cm] (42,35) -- (56,35) (42,52) -- (56,52) (42,43) -- (60,43);
 \foreach \lb/\xx in {movie\_name/412,total\_ticket/521,total\_customer/645,revenue/719}{\ct[anchor=east,text=cellt]{\xx,47}{1.2}{\lmo\lb}}
 \foreach \ii/\nm/\qa/\qb/\qc [count=\rw from 0] in {93/Doctor Strange In The Multiverse Of Madness/6615/6409/65579.98,136/Minions: The Rise Of Gru/7224/7014/56530.93,21/Avatar: The Way Of Water/5870/5632/59500.50,220/Thor: Love And Thunder/5589/5470/43372.90,168/Peninsula/5499/5365/41208.44,20/Black Panther 2: Wakanda Forever/3847/3730/26000.28,27/Black Adam/3229/3105/23153.24,22/Avengers: Endgame/3219/3135/26580.48,49/Dad I'm Sorry/3020/2817/23663.28,128/Love Destiny/2411/2376/18040.61,250/You And Trinh/2306/2273/18467.26,80/Fast \& Furious Presents: Hobbs \& Shaw/2182/2050/15006.55,71/Emergency Declaration/1987/1945/15107.76,119/Jurassic World Dominion/1939/1922/17568.52,96/Godzilla Vs. Kong/1732/1691/13719.65,69/Detective Conan: The Bride Of Halloween/1532/1500/10546.57,115/Joker/1447/1436/10527.97,184/Spider-Man: No Way Home/1432/1386/11046.53,24/Batman/1405/1391/10427.03,31/Blood Moon Party/1393/1333/9774.54}{%
  \pgfmathsetmacro\yc{81+\rw*32.45}\pgfmathtruncatemacro\od{mod(\rw,2)}%
  \ifnum\od=0 \fill[stripea] (77,\yc-16.2) rectangle (725,\yc+16.2);\fi
  \ct[text=cellt]{95,\yc}{1.15}{\lib\textbf{\ii}}
  \ct[anchor=east,text=cellt]{412,\yc}{1.15}{\lib\nm}
  \ct[anchor=east,text=cellt]{521,\yc}{1.15}{\lib\qa}
  \ct[anchor=east,text=cellt]{645,\yc}{1.15}{\lib\qb}
  \ct[anchor=east,text=cellt]{719,\yc}{1.15}{\lib\qc}}
\end{scope}
% ===== zoom 7 coordinates
\begin{scope}[z7]
 \fill[white] (53,81) rectangle (683,933);
 \newcommand\hp[9]{% x1,y1,x2,y2,title,bars,yticks,xticks,tx
  \foreach \a/\b/\t in {#6}{\fill[cornf] (\a,\t) rectangle (\b,#4);}
  \draw[axl,line width=0.015cm] (#1,#2) rectangle (#3,#4);
  \ct{#9,\the\numexpr#2-16\relax}{3.2}{#5}
  \yticks{#1}{2.7}{#7}
  \xticks{#4}{2.7}{#8}}
 \hp{97}{117}{258}{277}{n\_total}{105/112/125}{100000/149,50000/213,0/276}{0/105,50/132,100/160,150/188,200/216,250/244}{178}
 \hp{305}{117}{466}{277}{n\_falied}{314/321/125,335/342/249,357/364/274,386/393/276}{100000/125,75000/163,50000/201,25000/239,0/276}{0/314,2/362,4/410,6/458}{386}
 \hp{514}{117}{674}{277}{n\_success}{522/529/125}{100000/149,50000/213,0/276}{0/522,50/549,100/577,150/605,200/633,250/661}{594}
 \hp{97}{324}{258}{483}{n\_money}{105/112/332,112/120/481}{100000/355,50000/420,0/482}{0/105,250/132,500/160,750/188,1000/217,1250/245}{178}
 \hp{305}{324}{466}{483}{n\_discount}{314/321/332,321/328/408,328/335/444,335/342/467,342/349/476,349/356/480,356/370/482}{60000/336,40000/385,20000/435,0/482}{0/313,10/360,20/405,30/451}{386}
 \hp{514}{324}{674}{483}{n\_days}{522/529/332,529/536/480}{100000/355,50000/420,0/482}{0/522,50/570,100/620,150/669}{594}
 \hp{97}{531}{258}{689}{n\_month}{105/112/666,112/119/539,119/126/668,126/134/684,134/141/687}{80000/555,60000/588,40000/622,20000/655,0/689}{0/105,5/145,10/186,15/226}{178}
 \hp{305}{531}{466}{689}{n\_promotion}{314/321/565,321/328/538,328/335/673,335/342/685}{60000/541,40000/591,20000/640,0/689}{0/313,5/356,10/399,15/442}{386}
 \hp{514}{531}{674}{689}{success\_rate}{522/529/668,594/602/684,615/623/687,660/668/539}{100000/539,75000/576,50000/614,25000/651,0/689}{0.0/522,0.2/551,0.4/580,0.6/609,0.8/639,1.0/667}{594}
 \hp{97}{737}{258}{896}{promotion\_rate}{105/112/804,149/156/893,178/185/883,200/207/893,243/251/744}{60000/747,40000/796,20000/847,0/896}{0.0/105,0.2/134,0.4/163,0.6/192,0.8/222,1.0/251}{178}
 \hp{305}{737}{466}{896}{discount\_rate}{314/321/745,321/328/868,328/335/860,335/342/855,342/349/852,349/357/860,357/364/849,364/371/874,371/379/876,379/386/849,386/393/889,393/400/892,400/407/893,407/415/892,415/430/893,444/452/889,452/459/887}{30000/757,20000/803,10000/850,0/896}{0.0/314,0.2/343,0.4/372,0.6/401,0.8/431,1.0/460}{386}
 % promotion table
 \fill[darkt] (803,118) rectangle (1580,895);
 \draw[cellt,line width=0.02cm] (816,130) -- (832,130) (816,158) -- (832,158) (815,145) -- (829,145);
 \fill[cellt] (829,141) -- (837,141) -- (833,150) -- cycle;
 \foreach \lb/\xx in {n\_prmotions/980,n\_cus/1036,total/1092,n\_voucher\_pct/1212,n\_reward\_point\_pct/1374,n\_d\_discount\_pct/1519}{\ct[anchor=east,text=cellt]{\xx,156}{4.7}{\lmo\lb}}
 \fill[gray!70!black] (851,185) rectangle (1528,188);
 \fill[gray!40!darkt] (803,870) rectangle (1580,871);
 \foreach \ta/\tb/\ix/\pmv/\cu/\ttv/\tg/\tf/\vv/\vg/\vf/\rrv/\rg/\rf/\dd/\dg/\df in {
  188/249/0/1/61334/61334/00441B/white/9\%/FFF7FB/black/5\%/023858/white/87\%/034569/white,
  249/309/1/2/6264/12528/E3F4B8/black/9\%/FFF7FB/black/2\%/A9BFDC/black/90\%/023B5F/white,
  309/367/2/3/1042/3126/F8FCCF/black/9\%/FFF7FB/black/1\%/BBC7E0/black/89\%/03415F/white,
  367/429/3/4/230/920/FFFFE5/black/9\%/FFF7FB/black/1\%/E6E5F0/black/90\%/023B5F/white,
  429/488/4/5/74/370/FFFFE5/black/12\%/F6F0F7/black/1\%/D3D4E7/black/87\%/044469/white,
  488/550/5/6/19/114/FFFFE5/black/11\%/FBF3F9/black/0\%/FFF7FB/black/89\%/023B5F/white,
  550/609/6/7/10/70/FFFFE5/black/20\%/E9E5F1/black/3\%/3D93C2/white/77\%/0569A6/white,
  609/669/7/8/2/16/FFFFE5/black/12\%/F6EFF7/black/0\%/FFF7FB/black/88\%/03406A/white,
  669/730/8/9/2/18/FFFFE5/black/33\%/C5CCE3/black/0\%/FFF7FB/black/67\%/0A73B2/white,
  730/790/9/10/1/10/FFFFE5/black/10\%/FFF7FB/black/0\%/FFF7FB/black/90\%/023B5F/white,
  790/850/10/17/1/17/FFFFE5/black/100\%/023858/white/0\%/FFF7FB/black/0\%/FFF7FB/black}{%
  \pgfmathsetmacro\yc{(\ta+\tb)/2}\pgfmathtruncatemacro\od{mod(\ix,2)}%
  \ifnum\od=0 \fill[stripea] (851,\ta) rectangle (1043,\tb);\else\fill[stripeb] (851,\ta) rectangle (1043,\tb);\fi
  \definecolor{cg}{HTML}{\tg}\fill[cg] (1043,\ta) rectangle (1099,\tb);
  \definecolor{cg}{HTML}{\vg}\fill[cg] (1099,\ta) rectangle (1220,\tb);
  \definecolor{cg}{HTML}{\rg}\fill[cg] (1220,\ta) rectangle (1382,\tb);
  \definecolor{cg}{HTML}{\dg}\fill[cg] (1382,\ta) rectangle (1528,\tb);
  \ct[text=white]{867,\yc}{4.8}{\lmo\textbf{\ix}}
  \ct[anchor=east,text=cellt]{980,\yc}{4.8}{\lmo\pmv}
  \ct[anchor=east,text=cellt]{1036,\yc}{4.8}{\lmo\cu}
  \ct[anchor=east,text=\tf]{1092,\yc}{4.8}{\lmo\ttv}
  \ct[anchor=east,text=\vf]{1212,\yc}{4.8}{\lmo\vv}
  \ct[anchor=east,text=\rf]{1374,\yc}{4.8}{\lmo\rrv}
  \ct[anchor=east,text=\df]{1519,\yc}{4.8}{\lmo\dd}}
\end{scope}
% ===== heat maps
\begin{scope}[shift={(4700,2990)},x=0.003444cm,y=-0.003333cm]
 \heat{2019}{1348/{4,3,2,2,2,3,2,1,3,2,1},1293/{4,7,5,6,4,4,2,4,2,3},745/{7,6,7,4,4,4,5,3,2},2922/{3,4,3,3,2,3,2,1},3226/{4,4,4,3,3,3,2},3062/{4,5,3,4,4,2},2611/{5,3,4,3,2},3735/{3,4,3,2},2169/{5,3,2},3364/{4,2},1522/{3},834/{-}}
\end{scope}
\begin{scope}[shift={(5336,2991)},x=0.003444cm,y=-0.003333cm]
 \heat{2022}{474/{7,5,5,6,5,6,3,4,3,4,5},3212/{3,3,5,4,5,2,3,4,2,3},3675/{3,4,3,5,2,3,3,3,3},4240/{5,3,5,2,2,3,3,2},10383/{3,5,2,2,3,2,2},6511/{5,2,3,2,2,2},13630/{2,2,3,2,2},4969/{3,3,3,2},5843/{3,3,2},7184/{3,2},5841/{3},6212/{-}}
\end{scope}
% ===== zoom 8 coordinates
\begin{scope}[z8]
 % N
 \fill[white] (53,61) rectangle (771,722);
 \foreach \tp [count=\i from 0] in {546,558,574,493,484,485,498,456,513,461,528,556,566,570,591,598,598,594,596,584,561,575,544,570,593,440,530,593,599,599,599,599,597,564,584,490,475,458,254,375,135,455,393,343,382,370}{\pgfmathsetmacro\xc{131+\i*12.38}\fill[cornf] (\xc-5,\tp) rectangle (\xc+5,600);}
 \draw[tomatoc,line width=0.02cm,line join=round] (131,580) -- (144,298) -- (156,320) -- (169,428) -- (182,382) -- (194,375) -- (207,382) -- (219,366) -- (232,343) -- (245,380) -- (257,316) -- (270,334) -- (283,309) -- (295,336) -- (308,280) -- (321,245) -- (333,131) -- (346,333) -- (359,276) -- (372,397) -- (384,334) -- (397,315) -- (409,336) -- (422,312) -- (435,366) -- (447,333) -- (460,303) -- (473,268) -- (485,287) -- (498,268) -- (511,131) -- (523,426) -- (536,321) -- (548,338) -- (561,374) -- (574,373) -- (586,334) -- (599,325) -- (612,324) -- (624,298) -- (637,254) -- (650,246) -- (662,258) -- (675,252) -- (688,234);
 \draw[axl,gray!60!black] (97,113) rectangle (722,600);
 \ct{410,91}{5.2}{Payment success rate by months}
 \yticks{97}{3.7}{17500/143,15000/208,12500/273,10000/339,7500/405,5000/470,2500/535,0/600}
 \foreach \lb/\yy in {100.0\%/137,95.0\%/204,90.0\%/271,85.0\%/339,80.0\%/407,75.0\%/475,70.0\%/543}{\draw[tk] (722,\yy) -- +(0.05cm,0);\ct[anchor=west]{727,\yy}{3.7}{\lb}}
 \ct[rotate=90]{60,360}{3.7}{\#tickets}\ct[rotate=90]{761,358}{3.7}{success rate}
 \dates{131}{12.38}{608}{3.2}{\mNf}
 % O
 \fill[white] (800,61) rectangle (1525,722);
 \draw[tomatoc,lin] (865,461) -- (878,521) -- (890,532) -- (904,419) -- (917,427) -- (930,421) -- (942,433) -- (955,386) -- (968,465) -- (981,400) -- (994,484) -- (1007,505) -- (1020,527) -- (1033,525) -- (1046,548) -- (1058,551) -- (1071,552) -- (1084,550) -- (1097,534) -- (1110,519) -- (1123,535) -- (1136,508) -- (1149,530) -- (1162,548) -- (1175,428) -- (1188,505) -- (1201,550) -- (1214,555) -- (1227,553) -- (1240,528) -- (1252,543) -- (1265,440) -- (1278,365) -- (1291,378) -- (1304,153) -- (1317,298) -- (1330,128) -- (1343,461) -- (1356,412) -- (1369,380) -- (1382,416) -- (1395,424);
 \draw[skyb,lin] (865,481) -- (878,538) -- (890,544) -- (904,472) -- (917,480) -- (930,494) -- (942,501) -- (955,493) -- (968,522) -- (981,492) -- (994,535) -- (1007,546) -- (1020,542) -- (1033,546) -- (1046,553) -- (1058,553) -- (1071,553) -- (1084,553) -- (1097,542) -- (1110,534) -- (1123,545) -- (1136,527) -- (1149,540) -- (1162,550) -- (1175,470) -- (1188,530) -- (1201,553) -- (1214,553) -- (1227,552) -- (1240,535) -- (1252,550) -- (1265,470) -- (1278,540) -- (1291,537) -- (1304,500) -- (1317,518) -- (1330,460) -- (1343,536) -- (1356,533) -- (1369,511) -- (1382,518) -- (1395,527) -- (1408,553);
 \draw[green!50!black,lin] (968,555) -- (981,535) -- (994,537) -- (1007,539) -- (1020,541) -- (1033,544) -- (1046,546) -- (1058,548) -- (1071,550) -- (1084,552) -- (1097,553) -- (1123,553) -- (1136,549) -- (1149,553) -- (1162,553) -- (1175,544) -- (1188,550) -- (1201,551) -- (1214,552) -- (1227,553) -- (1278,553) -- (1291,554) -- (1304,554) -- (1317,552) -- (1330,549) -- (1343,551) -- (1356,553) -- (1369,553) -- (1382,554) -- (1395,552);
 \draw[axl,gray!60!black] (837,110) rectangle (1435,577);
 \ct{1136,89}{4}{Total tickets of error group by months}
 \yticks{837}{3.5}{1750/125,1500/186,1250/248,1000/310,750/371,500/433,250/494,0/555}
 \ct[rotate=90]{807,345}{3.3}{\#tickets}\ct{1136,695}{3.5}{month}
 \dates{865}{13.9}{595}{3.1}{\mOf}
 \draw[gray!40,fill=white,line width=0.012cm] (1461,124) rectangle (1520,222);
 \foreach \lb/\yy/\cc in {external/138/tomatoc,customer/170/skyb,internal/202/green!50!black}{\draw[\cc,lin] (1464,\yy) -- (1480,\yy);\ct[anchor=west]{1484,\yy}{3}{\lb}}
 % P
 \fill[white] (71,759) rectangle (1025,1533);
 \tikzset{pl/.style={line width=0.04cm,line join=round}}
 \draw[gray,pl] (147,1296) -- (162,1322) -- (177,1330) -- (193,1262) -- (208,1266) -- (223,1256) -- (238,1270) -- (253,1250) -- (268,1283) -- (284,1258) -- (299,1290) -- (314,1304) -- (329,1318) -- (344,1322) -- (360,1328) -- (375,1332) -- (390,1333) -- (405,1333) -- (420,1326) -- (435,1321) -- (450,1328) -- (465,1309) -- (481,1322) -- (496,1333) -- (511,1262) -- (526,1300) -- (541,1334) -- (556,1335) -- (572,1318) -- (587,1332) -- (602,1240) -- (617,1118) -- (632,1130) -- (647,880) -- (662,1040) -- (677,870) -- (692,1228) -- (707,1175) -- (722,1132) -- (737,1175) -- (752,1183);
 \draw[tomatoc,pl] (147,1275) -- (162,1325) -- (177,1333) -- (193,1277) -- (208,1280) -- (223,1293) -- (238,1297) -- (253,1282) -- (268,1303) -- (284,1288) -- (299,1315) -- (314,1328) -- (329,1322) -- (344,1332) -- (360,1333) -- (375,1335) -- (405,1335) -- (420,1332) -- (435,1320) -- (450,1331) -- (465,1312) -- (481,1325) -- (496,1335) -- (511,1270) -- (526,1312) -- (541,1335) -- (556,1335) -- (572,1320) -- (587,1333) -- (602,1255) -- (617,1322) -- (632,1328) -- (647,1330) -- (662,1333) -- (677,1335) -- (752,1335);
 \draw[skyb,pl] (147,1270) -- (162,1320) -- (177,1328) -- (193,1252) -- (208,1258) -- (223,1262) -- (238,1262) -- (253,1224) -- (268,1280) -- (284,1238) -- (299,1305) -- (314,1318) -- (329,1325) -- (344,1330) -- (360,1333) -- (375,1335) -- (390,1335) -- (405,1333) -- (420,1322) -- (435,1314) -- (450,1325) -- (465,1310) -- (481,1322) -- (496,1335) -- (511,1260) -- (526,1312) -- (541,1335) -- (556,1335) -- (572,1325) -- (587,1333) -- (602,1292) -- (617,1335) -- (783,1337);
 \draw[green!50!black,pl] (147,1320) -- (162,1330) -- (177,1335) -- (193,1318) -- (208,1320) -- (223,1322) -- (238,1324) -- (253,1325) -- (268,1326) -- (284,1325) -- (299,1330) -- (314,1335) -- (752,1337);
 \draw[peruc,pl] (284,1330) -- (299,1333) -- (329,1331) -- (360,1333) -- (405,1336) -- (496,1336) -- (511,1322) -- (526,1335) -- (572,1335) -- (602,1332) -- (617,1325) -- (632,1322) -- (647,1294) -- (662,1313) -- (677,1250) -- (692,1322) -- (707,1322) -- (722,1308) -- (737,1310) -- (752,1318);
 \draw[violet!80!black,pl] (147,1332) -- (162,1333) -- (177,1335) -- (193,1318) -- (208,1326) -- (223,1326) -- (238,1325) -- (253,1322) -- (268,1333) -- (284,1331) -- (299,1334) -- (314,1336) -- (496,1337) -- (511,1330) -- (526,1335) -- (602,1335) -- (617,1333) -- (632,1333) -- (647,1318) -- (662,1322) -- (677,1311) -- (692,1328) -- (707,1328) -- (722,1316) -- (737,1321) -- (752,1323);
 \draw[blue,pl] (268,1335) -- (284,1315) -- (299,1318) -- (314,1321) -- (329,1323) -- (344,1325) -- (360,1328) -- (375,1331) -- (390,1333) -- (405,1335) -- (420,1336) -- (435,1333) -- (450,1334) -- (465,1332) -- (481,1335) -- (511,1336) -- (677,1332) -- (692,1335) -- (752,1336);
 \draw[axl] (115,816) rectangle (814,1362);
 \ct{465,791}{5}{Total error by months}
 \yticks{115}{3.9}{1750/833,1500/905,1250/978,1000/1049,750/1122,500/1194,250/1266,0/1338}
 \ct[rotate=90]{80,1092}{3.7}{\#tickets}\ct{465,1502}{3.9}{month}
 \dates{147}{15.9}{1373}{3.3}{\mPf}
 \draw[gray!40,fill=white,fill opacity=0.8,line width=0.012cm] (602,829) rectangle (1020,1097);
 \foreach \lb/\yy/\cc in {Payment failed from bank/849/gray,Insufficient funds in customer account. Please add more funds and try the transaction again./887/tomatoc,No response from your bank/925/skyb,Password locked due to multiple incorrect attempts. Choose Forgot Password to unlock./961/green!50!black,Payment overdue/998/violet!80!black,Transaction temporarily limited/1036/blue,Need verify your account to continue/1071/peruc}{\draw[\cc,pl] (605,\yy) -- (623,\yy);\ct[anchor=west]{628,\yy}{3.8}{\lb}}
\end{scope}
\end{tikzpicture}
\end{document}
